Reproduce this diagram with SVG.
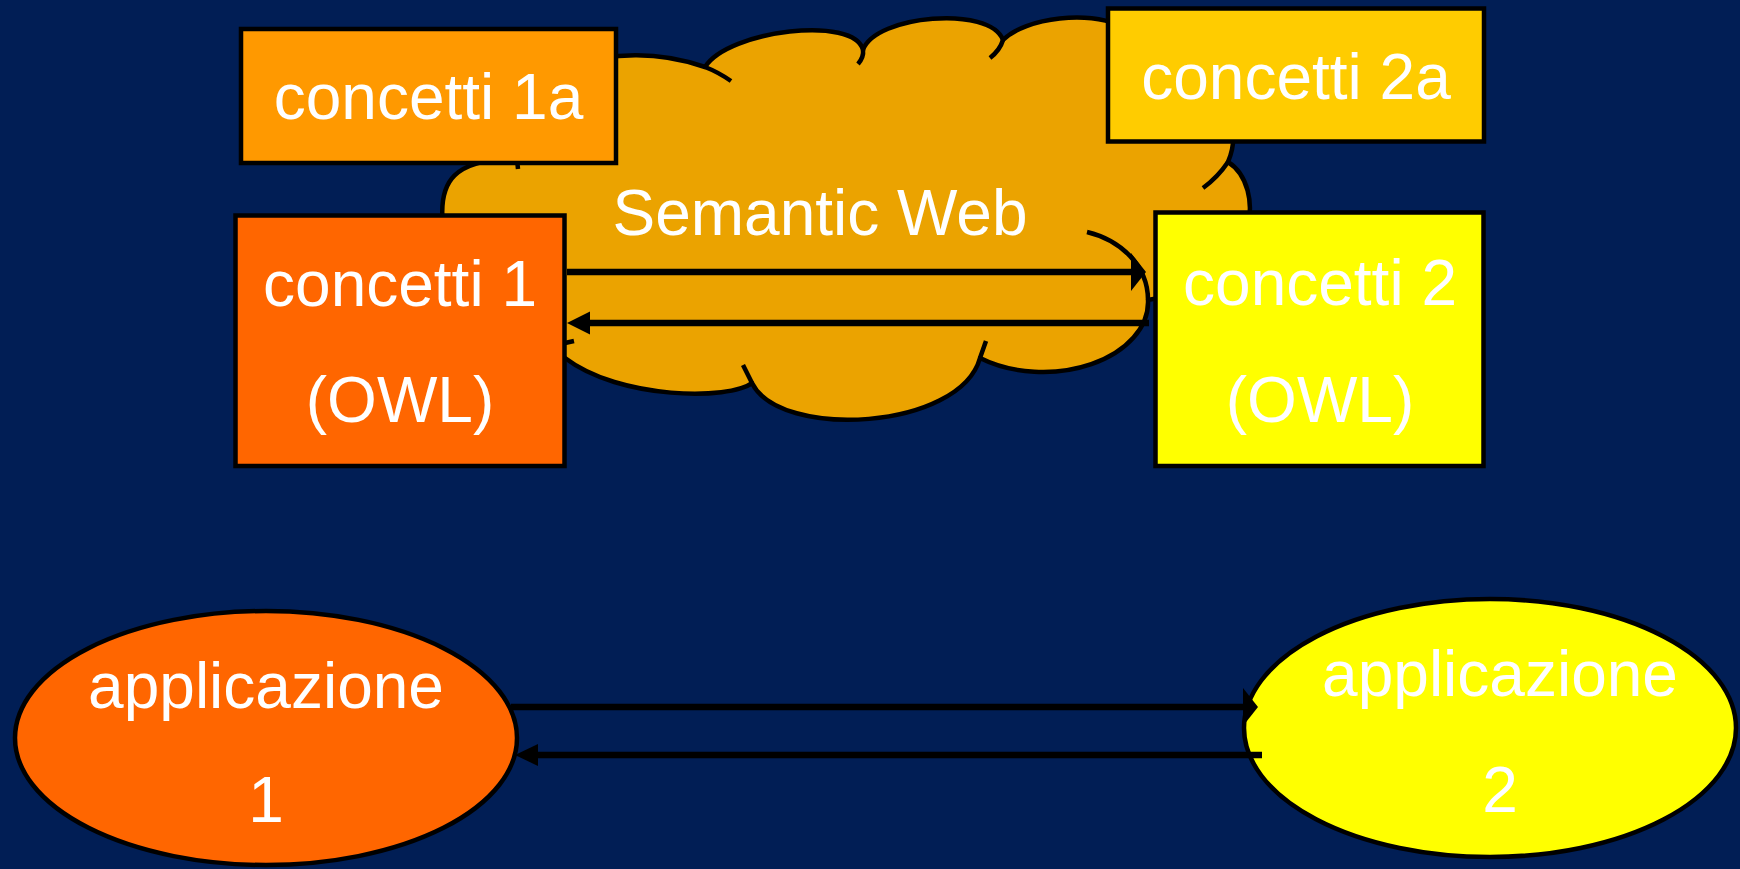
<svg xmlns="http://www.w3.org/2000/svg" width="1740" height="869" viewBox="0 0 1740 869">
<style>
.bx{stroke:#000;stroke-width:4.5}
.t{font-family:"Liberation Sans",Arial,sans-serif;font-size:64px;fill:#fff;text-anchor:middle}
.hk{fill:none;stroke:#000;stroke-width:4.5;stroke-linecap:butt}
.ln{stroke:#000;stroke-width:6.5;fill:none}
.hd{fill:#000}
</style>
<rect width="1740" height="869" fill="#011E55"/>
<g id="cloud">
<path d="M443,225 C438,180 455,160 515,158 C515,70 610,35 705,67 C728,30 855,15 863,50 C875,15 990,5 1003,40 C1025,18 1090,8 1130,30 C1200,60 1250,110 1228,162 C1265,185 1265,280 1148,300 A105,70 0 0,1 980,358 C960,430 780,440 752,383 C730,400 620,400 565,358 L530,330 L443,260 Z" fill="#EBA300" stroke="#000" stroke-width="4.5" stroke-linejoin="round"/>
<path class="hk" d="M516,150 L518,169"/>
<path class="hk" d="M705,67 Q718,72 731,81"/>
<path class="hk" d="M863,50 Q864,57 858,64"/>
<path class="hk" d="M1003,40 Q1000,50 990,58"/>
<path class="hk" d="M1228,162 Q1218,177 1203,188"/>
<path class="hk" d="M1148,300 C1148,265 1120,240 1087,232"/>
<path class="hk" d="M980,358 L986,341"/>
<path class="hk" d="M752,383 L743,365"/>
<path class="hk" d="M556,345 L574,341"/>
<text class="t" x="820" y="235">Semantic Web</text>
</g>
<g id="concetti1a">
<rect class="bx" x="241" y="29" width="375" height="134" fill="#FF9900"/>
<text class="t" x="428.5" y="119">concetti 1a</text>
</g>
<g id="concetti2a">
<rect class="bx" x="1108" y="8.5" width="376" height="133" fill="#FFCC00"/>
<text class="t" x="1296" y="99">concetti 2a</text>
</g>
<g id="concetti1">
<rect class="bx" x="235.5" y="215.5" width="329" height="250.5" fill="#FF6600"/>
<text class="t" x="400" y="306">concetti 1</text>
<text class="t" x="400" y="422">(OWL)</text>
</g>
<g id="concetti2">
<rect class="bx" x="1155.5" y="212.5" width="328" height="253.5" fill="#FFFF00"/>
<text class="t" x="1320" y="305">concetti 2</text>
<text class="t" x="1320" y="422">(OWL)</text>
</g>
<g id="applicazione1">
<ellipse class="bx" cx="266" cy="738" rx="251" ry="127" fill="#FF6600"/>
<text class="t" x="266" y="708">applicazione</text>
<text class="t" x="266" y="822">1</text>
</g>
<g id="applicazione2">
<ellipse class="bx" cx="1490" cy="728" rx="246" ry="129" fill="#FFFF00"/>
<text class="t" x="1500" y="696">applicazione</text>
<text class="t" x="1500" y="812">2</text>
</g>
<g id="connectors">
<path class="ln" d="M567,272 H1133"/>
<polygon class="hd" points="1146,272 1131,253 1131,291"/>
<path class="ln" d="M1149,323 H588"/>
<polygon class="hd" points="567,323 590,311.5 590,334.5"/>
<path class="ln" d="M511,707 H1245"/>
<polygon class="hd" points="1258,707 1243,688 1243,726"/>
<path class="ln" d="M1262,755 H536"/>
<polygon class="hd" points="515,755 538,744 538,766"/>
</g>
</svg>
